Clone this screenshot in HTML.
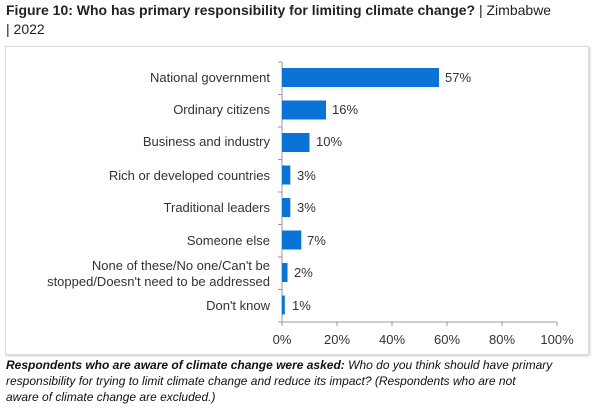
<!DOCTYPE html><html><head><style>body{margin:0;background:#fff;font-family:"Liberation Sans",sans-serif;}
</style></head><body>
<div style="position:relative;width:602px;height:410px;overflow:hidden">
<div style="position:absolute;left:6px;top:1px;font-size:14px;color:#222;line-height:19px;width:596px;white-space:nowrap"><b>Figure 10: Who has primary responsibility for limiting climate change?</b> | Zimbabwe<br>| 2022</div>
<div style="position:absolute;left:5px;top:46px;width:582px;height:307px;border:1px solid #ddd;box-shadow:1px 1px 2px #ccc"></div>
<svg style="position:absolute;left:0;top:0" width="602" height="410" font-family="Liberation Sans, sans-serif" font-size="13" fill="#333">
<line x1="282" y1="62" x2="282" y2="322" stroke="#999"/>
<line x1="282" y1="322" x2="557" y2="322" stroke="#999"/>
<g stroke="#999">
<line x1="278" y1="62" x2="282" y2="62"/><line x1="278" y1="94.5" x2="282" y2="94.5"/><line x1="278" y1="127" x2="282" y2="127"/><line x1="278" y1="159.5" x2="282" y2="159.5"/><line x1="278" y1="192" x2="282" y2="192"/><line x1="278" y1="224.5" x2="282" y2="224.5"/><line x1="278" y1="257" x2="282" y2="257"/><line x1="278" y1="289.5" x2="282" y2="289.5"/><line x1="278" y1="322" x2="282" y2="322"/>
<line x1="282" y1="322" x2="282" y2="326"/><line x1="337" y1="322" x2="337" y2="326"/><line x1="392" y1="322" x2="392" y2="326"/><line x1="447" y1="322" x2="447" y2="326"/><line x1="502" y1="322" x2="502" y2="326"/><line x1="557" y1="322" x2="557" y2="326"/>
</g>
<g fill="#0a74d6">
<rect x="282" y="68" width="157" height="19"/>
<rect x="282" y="100.5" width="44" height="19"/>
<rect x="282" y="133" width="27.5" height="19"/>
<rect x="282" y="165.5" width="8.3" height="19"/>
<rect x="282" y="198" width="8.3" height="19"/>
<rect x="282" y="230.5" width="19.3" height="19"/>
<rect x="282" y="263" width="5.5" height="19"/>
<rect x="282" y="295.5" width="2.8" height="19"/>
</g>
<g text-anchor="end">
<text x="270" y="82">National government</text>
<text x="270" y="114">Ordinary citizens</text>
<text x="270" y="146">Business and industry</text>
<text x="270" y="180">Rich or developed countries</text>
<text x="270" y="212">Traditional leaders</text>
<text x="270" y="245">Someone else</text>
<text x="270" y="270">None of these/No one/Can't be</text>
<text x="270" y="286">stopped/Doesn't need to be addressed</text>
<text x="270" y="310">Don't know</text>
</g>
<text x="445" y="82">57%</text><text x="332" y="114">16%</text><text x="316" y="146">10%</text><text x="297" y="180">3%</text><text x="297" y="212">3%</text><text x="307" y="245">7%</text><text x="294" y="277">2%</text><text x="292" y="310">1%</text>
<g text-anchor="middle"><text x="282" y="344">0%</text><text x="337" y="344">20%</text><text x="392" y="344">40%</text><text x="447" y="344">60%</text><text x="502" y="344">80%</text><text x="557" y="344">100%</text></g>
</svg>
<div style="position:absolute;left:6px;top:357px;width:596px;font-size:12px;line-height:16px;font-style:italic;color:#111;white-space:nowrap"><b>Respondents who are aware of climate change were asked:</b> Who do you think should have primary<br>responsibility for trying to limit climate change and reduce its impact? (Respondents who are not<br>aware of climate change are excluded.)</div>
</div></body></html>
